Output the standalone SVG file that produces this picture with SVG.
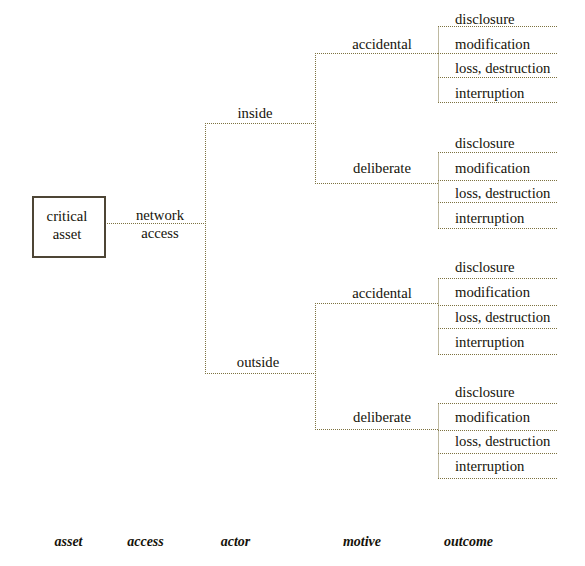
<svg xmlns="http://www.w3.org/2000/svg" width="585" height="566" viewBox="0 0 585 566">
<style>
  .t { font-family: 'Liberation Serif', 'Times New Roman', serif; font-size: 14.7px; fill: #15130a; }
  .m { text-anchor: middle; }
  .h { font-family: 'Liberation Serif', 'Times New Roman', serif; font-size: 14px; font-style: italic; font-weight: bold; fill: #15130a; text-anchor: middle; }
  .c { fill: none; stroke: #7d7240; stroke-width: 1; stroke-dasharray: 1 1; }
  .box { fill: #ffffff; stroke: #4d4535; stroke-width: 2; }
</style>
<rect width="585" height="566" fill="#ffffff"/>
<g id="connectors">
  <path class="c" d="M105 223.5 H205.5"/>
  <path class="c" d="M205.5 123 V373.5"/>
  <path class="c" d="M205 123.5 H315.5"/>
  <path class="c" d="M205 373.5 H315.5"/>
  <path class="c" d="M315.5 53 V183.5"/>
  <path class="c" d="M315.5 303 V429.5"/>
  <path class="c" d="M315 53.5 H438.5"/>
  <path class="c" d="M315 183.5 H438.5"/>
  <path class="c" d="M315 303.5 H438.5"/>
  <path class="c" d="M315 429.5 H438.5"/>
  <path class="c" d="M438.5 26.5 V102.5 M438 26.5 H558 M438 53.5 H558 M438 77.5 H558 M438 102.5 H558"/>
  <path class="c" d="M438.5 152.5 V228.5 M438 152.5 H558 M438 180.5 H558 M438 202.5 H558 M438 228.5 H558"/>
  <path class="c" d="M438.5 278.5 V354.5 M438 278.5 H558 M438 305.5 H558 M438 328.5 H558 M438 354.5 H558"/>
  <path class="c" d="M438.5 403.5 V478.5 M438 403.5 H558 M438 430.5 H558 M438 453.5 H558 M438 478.5 H558"/>
</g>
<g id="node-asset">
  <rect class="box" x="33" y="197" width="72" height="60"/>
  <text class="t m" x="67" y="220.5">critical</text>
  <text class="t m" x="67" y="238.5">asset</text>
</g>
<g id="node-access">
  <text class="t m" x="160" y="219.5">network</text>
  <text class="t m" x="160" y="237.5">access</text>
</g>
<g id="node-inside"><text class="t m" x="255" y="117.5">inside</text></g>
<g id="node-outside"><text class="t m" x="258" y="366.5">outside</text></g>
<g id="node-accidental-1"><text class="t m" x="382" y="48.5">accidental</text></g>
<g id="node-deliberate-1"><text class="t m" x="382" y="173">deliberate</text></g>
<g id="node-accidental-2"><text class="t m" x="382" y="297.5">accidental</text></g>
<g id="node-deliberate-2"><text class="t m" x="382" y="421.5">deliberate</text></g>
<g id="outcomes-1">
  <text class="t" x="455" y="23.5">disclosure</text>
  <text class="t" x="455" y="48.5">modification</text>
  <text class="t" x="455" y="72.5">loss, destruction</text>
  <text class="t" x="455" y="97.5">interruption</text>
</g>
<g id="outcomes-2">
  <text class="t" x="455" y="147.5">disclosure</text>
  <text class="t" x="455" y="172.5">modification</text>
  <text class="t" x="455" y="197.5">loss, destruction</text>
  <text class="t" x="455" y="222.5">interruption</text>
</g>
<g id="outcomes-3">
  <text class="t" x="455" y="271.5">disclosure</text>
  <text class="t" x="455" y="296.5">modification</text>
  <text class="t" x="455" y="321.5">loss, destruction</text>
  <text class="t" x="455" y="346.5">interruption</text>
</g>
<g id="outcomes-4">
  <text class="t" x="455" y="396.5">disclosure</text>
  <text class="t" x="455" y="421.5">modification</text>
  <text class="t" x="455" y="446">loss, destruction</text>
  <text class="t" x="455" y="471">interruption</text>
</g>
<g id="headers">
  <text class="h" x="68.5" y="546">asset</text>
  <text class="h" x="145.5" y="546">access</text>
  <text class="h" x="235.5" y="546">actor</text>
  <text class="h" x="362" y="546">motive</text>
  <text class="h" x="468.5" y="546">outcome</text>
</g>
</svg>
